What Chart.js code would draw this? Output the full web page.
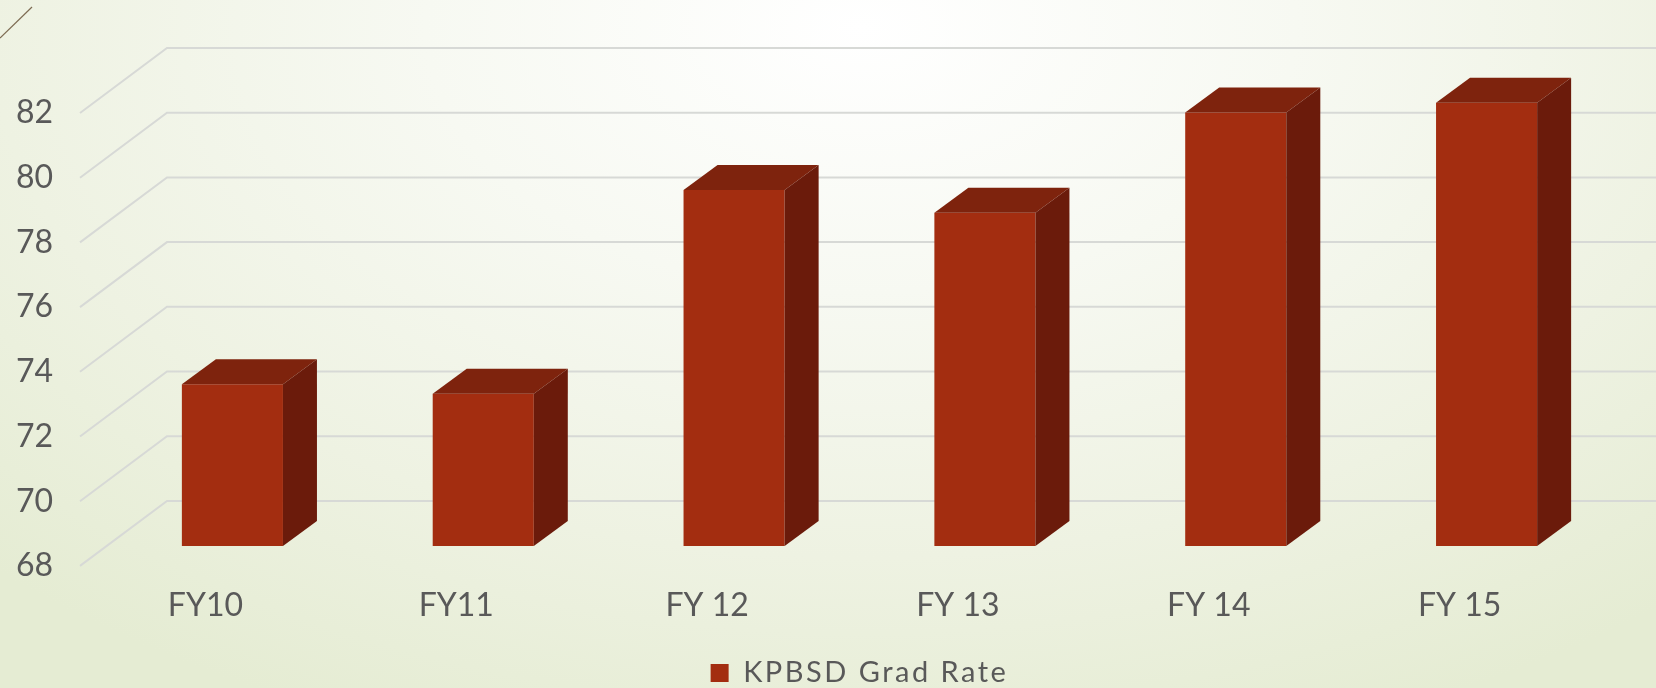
<!DOCTYPE html>
<html lang="en">
<head>
  <meta charset="UTF-8" />
  <title>KPBSD Grad Rate</title>
  <script src="https://cdn.jsdelivr.net/npm/chart.js"></script>
  <style>
    html, body {
      margin: 0;
      padding: 0;
      width: 1656px;
      height: 688px;
      overflow: hidden;
      background: radial-gradient(ellipse 75% 110% at 52% 4%, #ffffff 0%, #f7f9f2 35%, #eef2e2 70%, #e5ecd3 100%);
    }
    .wrap {
      position: relative;
      width: 1656px;
      height: 688px;
    }
  </style>
</head>
<body>
  <div class="wrap">
    <canvas id="gradChart" width="1656" height="688"></canvas>
  </div>

  <script>
    const categories = ['FY10', 'FY11', 'FY 12', 'FY 13', 'FY 14', 'FY 15'];
    const gradRate = [73.0, 72.7, 79.0, 78.3, 81.4, 81.7];
    const yTicks = [68, 70, 72, 74, 76, 78, 80, 82];

    const textColor = '#595959';
    const gridColor = '#d7d9d6';
    const frontColor = '#a32d10';
    const topColor = '#7e230d';
    const sideColor = '#6b1b0b';
    const fontFamily = 'Lato, "Open Sans", sans-serif';

    // offsets from the bar front plane (oblique 3D look)
    const barDepth = { dx: 34, dy: -25 };
    const wallDepth = { dx: 60, dy: -45 };
    const floorFront = { dx: -27, dy: 20 };

    const threeD = {
      id: 'threeD',
      beforeUpdate(chart) {
        chart.ctx.letterSpacing = '2.5px';
      },
      beforeDraw(chart) {
        const ctx = chart.ctx;
        ctx.letterSpacing = '2.5px';
        ctx.save();
        ctx.strokeStyle = '#7d6b52';
        ctx.lineWidth = 1.2;
        ctx.beginPath();
        ctx.moveTo(0, 38);
        ctx.lineTo(32, 7);
        ctx.stroke();
        ctx.restore();
      },
      beforeDatasetsDraw(chart) {
        const ctx = chart.ctx;
        const area = chart.chartArea;
        const y = chart.scales.y;
        const x = chart.scales.x;
        ctx.save();
        ctx.letterSpacing = '0px';
        ctx.strokeStyle = gridColor;
        ctx.lineWidth = 2;
        yTicks.forEach(v => {
          const py = y.getPixelForValue(v);
          ctx.beginPath();
          ctx.moveTo(area.left + floorFront.dx, py + floorFront.dy);
          ctx.lineTo(area.left + wallDepth.dx, py + wallDepth.dy);
          ctx.lineTo(chart.width, py + wallDepth.dy);
          ctx.stroke();
        });

        ctx.fillStyle = textColor;
        ctx.font = '32px ' + fontFamily;
        ctx.textAlign = 'right';
        ctx.textBaseline = 'middle';
        yTicks.forEach(v => {
          const py = y.getPixelForValue(v);
          ctx.fillText(String(v), 53, py + floorFront.dy);
        });

        ctx.textAlign = 'center';
        categories.forEach((c, i) => {
          const px = x.getPixelForValue(i);
          ctx.fillText(c, px + floorFront.dx, 606);
        });
        ctx.restore();
      },
      afterDatasetsDraw(chart) {
        const ctx = chart.ctx;
        const meta = chart.getDatasetMeta(0);
        ctx.save();
        meta.data.forEach(bar => {
          const l = bar.x - bar.width / 2;
          const r = bar.x + bar.width / 2;
          const t = bar.y;
          const b = bar.base;
          // top face
          ctx.fillStyle = topColor;
          ctx.beginPath();
          ctx.moveTo(l, t);
          ctx.lineTo(l + barDepth.dx, t + barDepth.dy);
          ctx.lineTo(r + barDepth.dx, t + barDepth.dy);
          ctx.lineTo(r, t);
          ctx.closePath();
          ctx.fill();
          // side face
          ctx.fillStyle = sideColor;
          ctx.beginPath();
          ctx.moveTo(r, t);
          ctx.lineTo(r + barDepth.dx, t + barDepth.dy);
          ctx.lineTo(r + barDepth.dx, b + barDepth.dy);
          ctx.lineTo(r, b);
          ctx.closePath();
          ctx.fill();
        });
        ctx.restore();
      }
    };

    new Chart(document.getElementById('gradChart'), {
      type: 'bar',
      data: {
        labels: categories,
        datasets: [{
          label: 'KPBSD Grad Rate',
          data: gradRate,
          backgroundColor: frontColor,
          borderWidth: 0,
          barPercentage: 0.62,
          categoryPercentage: 0.65,
          base: 68
        }]
      },
      options: {
        responsive: false,
        animation: false,
        layout: {
          padding: { left: 107, right: 44, top: 93, bottom: -9.5 }
        },
        scales: {
          x: { display: false },
          y: { display: false, min: 68, max: 82 }
        },
        plugins: {
          tooltip: { enabled: false },
          legend: {
            position: 'bottom',
            labels: {
              color: textColor,
              font: { family: fontFamily, size: 29 },
              boxWidth: 18,
              boxHeight: 18,
              padding: 112.6
            }
          }
        }
      },
      plugins: [threeD]
    });
  </script>
</body>
</html>
